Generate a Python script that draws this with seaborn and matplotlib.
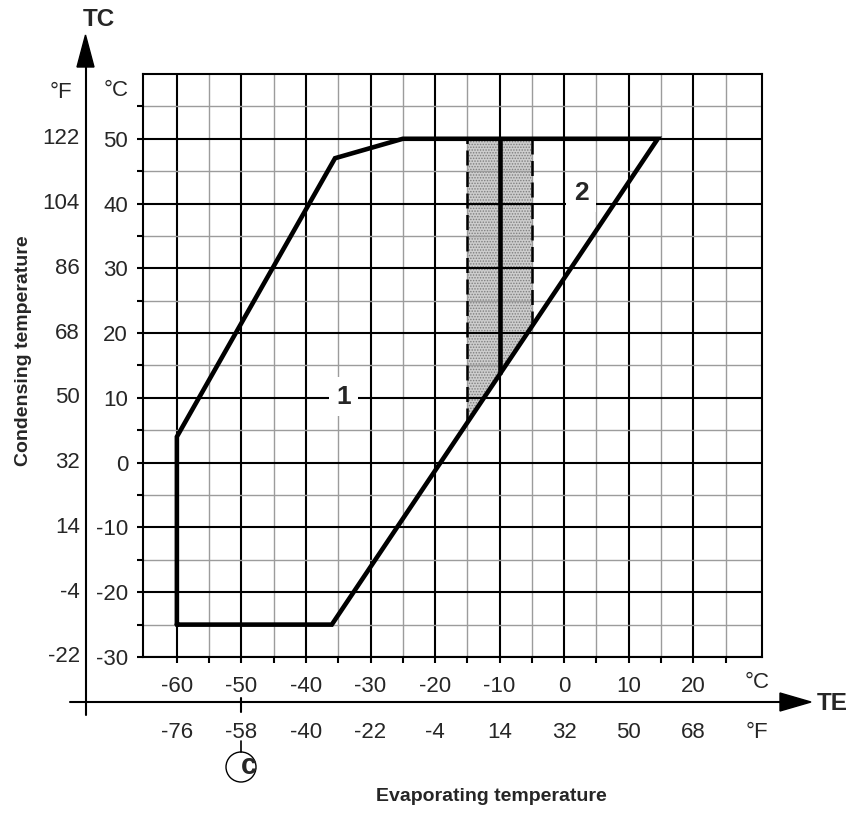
import numpy as np
import pandas as pd
import matplotlib
matplotlib.use("Agg")
import matplotlib.pyplot as plt
import matplotlib.transforms as mtransforms
from matplotlib.patches import Polygon, Circle
import seaborn as sns

# Operating envelope of the compressor (evaporating / condensing, °C)
envelope_te = [-60, -60, -35.5, -25, 14.5, -36, -60]
envelope_tc = [-25, 4, 47, 50, 50, -25, -25]

# Shaded evaporating-temperature band and its centre line (°C)
band_te = [-15, -5]
band_centre_te = -10
band_top_tc = 50

# Axis scales: Celsius ticks with their Fahrenheit equivalents
te_c_ticks = [-60, -50, -40, -30, -20, -10, 0, 10, 20]
te_f_labels = ["-76", "-58", "-40", "-22", "-4", "14", "32", "50", "68"]
tc_c_ticks = [-30, -20, -10, 0, 10, 20, 30, 40, 50]
tc_f_labels = ["-22", "-4", "14", "32", "50", "68", "86", "104", "122"]

# Region markers inside the envelope
region_names = ["1", "2"]
region_te = [-34.2, 2.6]
region_tc = [10.2, 41.7]

sns.set_theme(style="white")
plt.rcParams["font.family"] = ["Liberation Sans", "DejaVu Sans"]
plt.rcParams["hatch.linewidth"] = 0.7

W, H = 859, 816
fig = plt.figure(figsize=(W / 100, H / 100), dpi=100)
ax = fig.add_axes([143.3 / W, 159 / H, 618.4 / W, 583 / H])
ax.set_xlim(-65.2, 30.6)
ax.set_ylim(-30, 60)

# grid: heavy lines every 10 °C, light lines every 5 °C
ax.set_xticks(te_c_ticks)
ax.set_xticks(np.arange(-55, 30, 10), minor=True)
ax.set_yticks(tc_c_ticks)
ax.set_yticks(np.arange(-25, 60, 10), minor=True)
ax.set_axisbelow(True)
ax.grid(which="major", color="black", linewidth=1.5)
ax.grid(which="minor", color="#9c9c9c", linewidth=1.0)
ax.yaxis.get_minor_ticks()[-1].tick1line.set_visible(False)

for sp in ax.spines.values():
    sp.set_color("black")
    sp.set_linewidth(1.5)

ax.tick_params(which="both", direction="out", length=4.5, width=1.5,
               color="black", bottom=True, left=True)
ax.tick_params(axis="y", which="major", labelsize=16, pad=6.5)
ax.tick_params(axis="x", which="major", labelsize=16, pad=9.5)
ax.set_xticklabels([str(v) for v in te_c_ticks])
ax.set_yticklabels([str(v) for v in tc_c_ticks])

# shaded band bounded below by the envelope's lower-right edge
edge_te = [envelope_te[5], envelope_te[4]]
edge_tc = [envelope_tc[5], envelope_tc[4]]
band_low = np.interp(band_te, edge_te, edge_tc)
ax.fill_between(band_te, band_low, [band_top_tc] * 2, facecolor="#cdcdcd",
                edgecolor="#7e7e7e", hatch="......", linewidth=0, zorder=0.3)
for te, low in zip(band_te, band_low):
    ax.plot([te, te], [low, band_top_tc], color="black", linewidth=1.8,
            linestyle=(0, (6, 2.6)), zorder=2)
centre_low = np.interp(band_centre_te, edge_te, edge_tc)
ax.plot([band_centre_te, band_centre_te], [centre_low, band_top_tc],
        color="black", linewidth=3.3, solid_capstyle="butt", zorder=2)

# envelope outline
env = pd.DataFrame({"te": envelope_te, "tc": envelope_tc})
sns.lineplot(data=env, x="te", y="tc", sort=False, estimator=None,
             color="black", linewidth=3.3, ax=ax, zorder=3)
ax.lines[-1].set_solid_joinstyle("miter")
ax.set_xlabel("")
ax.set_ylabel("")

for name, te, tc in zip(region_names, region_te, region_tc):
    ax.text(te, tc, name, ha="center", va="center", fontsize=19,
            fontweight="black", zorder=4,
            bbox=dict(boxstyle="square,pad=0.28", facecolor="white",
                      edgecolor="none"))

# overlay in pixel units for the arrows and secondary scales
over = fig.add_axes([0, 0, 1, 1])
over.set_xlim(0, W)
over.set_ylim(H, 0)
over.axis("off")
over.patch.set_visible(False)

# vertical (TC) axis arrow
over.plot([85.5, 85.5], [715, 62], color="black", linewidth=1.5)
over.add_patch(Polygon([[85.5, 35], [77, 67], [94, 67]], closed=True,
                       facecolor="black", edgecolor="black"))
# horizontal (TE) axis arrow
over.plot([70, 785], [702, 702], color="black", linewidth=1.5)
over.add_patch(Polygon([[811, 702], [780, 693], [780, 711]], closed=True,
                       facecolor="black", edgecolor="black"))

over.text(99, 19, "TC", ha="center", va="center", fontsize=17.5,
          fontweight="bold")
over.text(832, 703, "TE", ha="center", va="center", fontsize=17.5,
          fontweight="bold")

# Fahrenheit scale on the condensing axis
ty = mtransforms.blended_transform_factory(over.transData, ax.transData)
for c, f in zip(tc_c_ticks, tc_f_labels):
    over.text(80, c, f, transform=ty, ha="right", va="center", fontsize=16)
over.text(61, 92, "°F", ha="center", va="center", fontsize=16)
over.text(116.5, 91, "°C", ha="center", va="center", fontsize=16)

# Fahrenheit scale on the evaporating axis
tx = mtransforms.blended_transform_factory(ax.transData, over.transData)
for c, f in zip(te_c_ticks, te_f_labels):
    over.text(c, 732, f, transform=tx, ha="center", va="center", fontsize=16)
over.text(757, 683, "°C", ha="center", va="center", fontsize=16)
over.text(757, 732, "°F", ha="center", va="center", fontsize=16)

# marker at -50 °C / -58 °F
over.plot([-50, -50], [698, 712], transform=tx, color="black", linewidth=1.5)
over.plot([-50, -50], [741, 752], transform=tx, color="black", linewidth=1.2)
over.add_patch(Circle((241, 767), 15, facecolor="white", edgecolor="black",
                      linewidth=1.0))
over.text(248.5, 766, "c", ha="center", va="center", fontsize=21,
          fontweight="black")

over.text(24, 351, "Condensing temperature", rotation=90, ha="center",
          va="center", fontsize=14, fontweight="bold")
over.text(491, 801, "Evaporating temperature", ha="center", va="baseline",
          fontsize=14, fontweight="bold")

fig.savefig("out.png", dpi=100)
